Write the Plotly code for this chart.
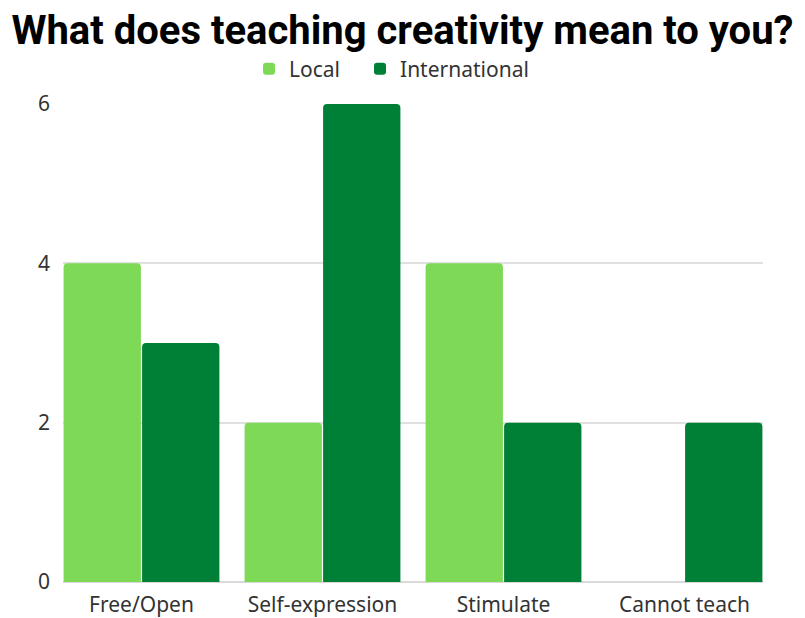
import plotly.graph_objects as go

categories = ["Free/Open", "Self-expression", "Stimulate", "Cannot teach"]
local_values = [4, 2, 4, 0]
international_values = [3, 6, 2, 2]
y_ticks = [0, 2, 4, 6]

LIGHT_GREEN = "#7ED957"
DARK_GREEN = "#008037"
FONT = "Noto Sans"

fig = go.Figure()
fig.add_trace(go.Bar(name="Local", x=categories, y=local_values, legend="legend",
                     marker=dict(color=LIGHT_GREEN, line=dict(width=0))))
fig.add_trace(go.Bar(name="International", x=categories, y=international_values,
                     legend="legend2",
                     marker=dict(color=DARK_GREEN, line=dict(width=0))))

legend_style = dict(orientation="h", y=1.073, yanchor="middle", xanchor="left",
                    font=dict(family=FONT, size=21, color="#333333"),
                    itemclick=False, bgcolor="rgba(0,0,0,0)")

fig.update_layout(
    width=805, height=618,
    paper_bgcolor="white", plot_bgcolor="white",
    margin=dict(l=63, r=42, t=104, b=36),
    barmode="group", bargap=0.1326, bargroupgap=0.015, barcornerradius=4,
    title=dict(text="<b>What does teaching creativity mean to you?</b>",
               x=0.5, xanchor="center", y=0.952, yanchor="middle",
               font=dict(family="Roboto", size=40, color="#000000")),
    legend=dict(x=0.2657, **legend_style),
    legend2=dict(x=0.4243, **legend_style),
    font=dict(family=FONT, color="#333333"),
    showlegend=True,
)
fig.update_xaxes(range=[-0.4337, 3.4337], showgrid=False, showline=False,
                 zeroline=False, ticks="", automargin=False, ticklabelstandoff=8,
                 tickfont=dict(size=21, color="#333333"))
fig.update_yaxes(range=[0, 6], tickvals=y_ticks, showgrid=True, gridcolor="#E0E0E0",
                 gridwidth=1.5, zeroline=True, zerolinecolor="#D9D9D9", zerolinewidth=1.5,
                 showline=False, ticks="", ticklabelstandoff=12, automargin=False,
                 tickfont=dict(size=21, color="#333333"))

fig.write_html("out.html")
